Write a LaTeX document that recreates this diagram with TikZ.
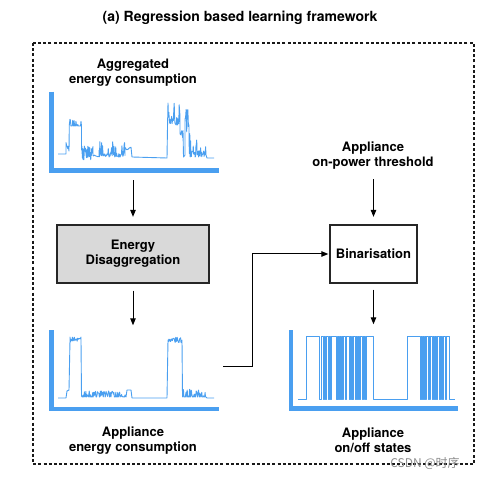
\documentclass[tikz,border=0pt]{standalone}
\usepackage{fontspec}
\setmainfont{TeX Gyre Heros}
\newfontfamily\cjkfont{Noto Sans CJK SC}
\usetikzlibrary{arrows.meta}
\definecolor{sigblue}{HTML}{4A9FF0}
\definecolor{boxgray}{HTML}{D9D9D9}
\begin{document}
\begin{tikzpicture}[x=1pt,y=-1pt,
  sig/.style={sigblue, line width=0.9pt, line join=round},
  axisline/.style={sigblue, line width=4.5pt, line join=miter},
  arr/.style={-{Triangle[length=7pt,width=5.5pt]}, line width=1pt, black},
  lab/.style={font=\fontsize{13}{15}\selectfont\bfseries, align=center, inner sep=0pt},
  procbox/.style={draw=black!85, line width=1.3pt, minimum height=58pt, align=center,
    font=\fontsize{13}{15}\selectfont\bfseries, inner sep=0pt},
  plotarea/.style={inner sep=0pt, minimum width=172pt, minimum height=82pt},
  frame/.style={draw=black!90, line width=1.2pt, dash pattern=on 3pt off 2.2pt},
]
\useasboundingbox (0,0) rectangle (479,478);

% title and frame
\node[font=\fontsize{14}{16}\selectfont\bfseries, inner sep=0pt] (title) at (240,17.5) {(a) Regression based learning framework};
\draw[frame] (33,43) rectangle (474,464);

% labels
\node[lab] (agglab) at (133,73) {Aggregated\\energy consumption};
\node[lab] (thr) at (373,155.5) {Appliance\\on-power threshold};
\node[lab] (applab) at (133,440.5) {Appliance\\energy consumption};
\node[lab] (onofflab) at (373,440.5) {Appliance\\on/off states};

% boxes
\node[procbox, fill=boxgray, minimum width=152pt] (edbox) at (133,254) {Energy\\Disaggregation};
\node[procbox, fill=white, minimum width=87pt] (binbox) at (373.5,254) {Binarisation};

% plot areas
\node[plotarea] (aggplot) at (135,132) {};
\node[plotarea] (appplot) at (135,370.5) {};
\node[plotarea, minimum width=171pt] (onoffplot) at (374.5,370.5) {};

% axes
\draw[axisline] (51.7,91.7) -- (51.7,170.5) -- (219,170.5);
\draw[axisline] (51.3,330) -- (51.3,409) -- (219,409);
\draw[axisline] (290.8,330) -- (290.8,408.5) -- (458,408.5);

% aggregated signal
\pgfmathsetseed{11}
\draw[sig] (58,154) -- (66,154)
  -- plot[domain=66:69,samples=6] (\x,{153-11*rnd})
  -- (69.3,125)
  -- plot[domain=69.5:81,samples=26] (\x,{126-9*rnd*(rnd>0.4)})
  -- (81.5,126) -- (81.5,150)
  -- plot[domain=82:93,samples=40] (\x,{146+14*rnd})
  -- plot[domain=93:99,samples=10] (\x,{158-3*rnd})
  -- plot[domain=99:125,samples=60] (\x,{157-4*rnd-14*(rnd>0.65)*rnd})
  -- plot[domain=125:131,samples=10] (\x,{150-3*rnd})
  -- (132,157) -- (167,158) -- (167.5,127)
  -- plot[domain=168:180,samples=30] (\x,{125-25*pow(rnd,2)})
  -- plot[domain=180:183,samples=8] (\x,{130+8*rnd})
  -- (183.5,157) -- (185,155)
  -- plot[domain=185:189,samples=8] (\x,{105+30*rnd})
  -- plot[domain=189:206,samples=45] (\x,{157-6*rnd-20*(rnd>0.7)*rnd})
  -- (207,158) -- (214,158);

% appliance signal
\draw[sig] (58,398) -- (66,398) -- (67,391) -- (69,390) -- (70,340)
  -- plot[domain=70:81,samples=24] (\x,{337+5*rnd})
  -- (81,340) -- (81.5,396)
  -- plot[domain=82:125,samples=90] (\x,{397-6*rnd*(rnd>0.3)})
  -- (126,397) -- (127,390) -- (131,390) -- (132,398) -- (167,398) -- (168,340)
  -- plot[domain=168:182,samples=30] (\x,{337+6*rnd})
  -- (182,340) -- (182.5,397)
  -- plot[domain=183:206,samples=50] (\x,{397-8*rnd*(rnd>0.4)})
  -- (207,398) -- (214,398);

% on/off signal
\draw[sig] (298,399) -- (306.7,399) -- (306.7,336)
  \foreach \a/\b in {319.3/321, 323/324, 325.5/326.5, 328/329, 330/331.5, 336/337,
     337.8/338.6, 339.5/340.2, 341/342, 343/343.7, 345/346, 349/350, 351/352,
     352.8/353.5, 355/356, 357.5/358.2, 359/360, 362/363, 364/364.6, 365.5/366.2}
     { -- (\a,336) -- (\a,399) -- (\b,399) -- (\b,336) }
  -- (373,336) -- (373,399) -- (407.7,399) -- (407.7,336)
  \foreach \a/\b in {420.5/421.5, 422.5/423.2, 424/425, 426/426.6, 428/429, 430/430.6,
     432/433, 434.5/435.2, 436/437, 439/440, 441/441.6, 442.5/443.2, 445/446}
     { -- (\a,336) -- (\a,399) -- (\b,399) -- (\b,336) }
  -- (449,336) -- (449,399) -- (455,399);

% connectors
\draw[arr, shorten <=7pt, shorten >=7.5pt] (aggplot.south -| edbox.north) -- (edbox.north);
\draw[arr, shorten <=7pt, shorten >=4pt] (edbox.south) -- (edbox.south |- appplot.north);
\draw[arr, shorten <=10pt, shorten >=7.5pt] (binbox.north |- thr.south) -- (binbox.north);
\draw[arr, shorten <=6pt, shorten >=5pt] (binbox.south) -- (binbox.south |- onoffplot.north);
\coordinate (appout) at (223,366);
\draw[arr, shorten >=1pt] (appout) -- ++(29,0) |- (binbox.west);

% watermark
\node[text=black!45, font=\cjkfont\fontsize{12}{14}\selectfont, inner sep=0pt] (wm) at (425,463) {CSDN @时序};
\end{tikzpicture}
\end{document}
